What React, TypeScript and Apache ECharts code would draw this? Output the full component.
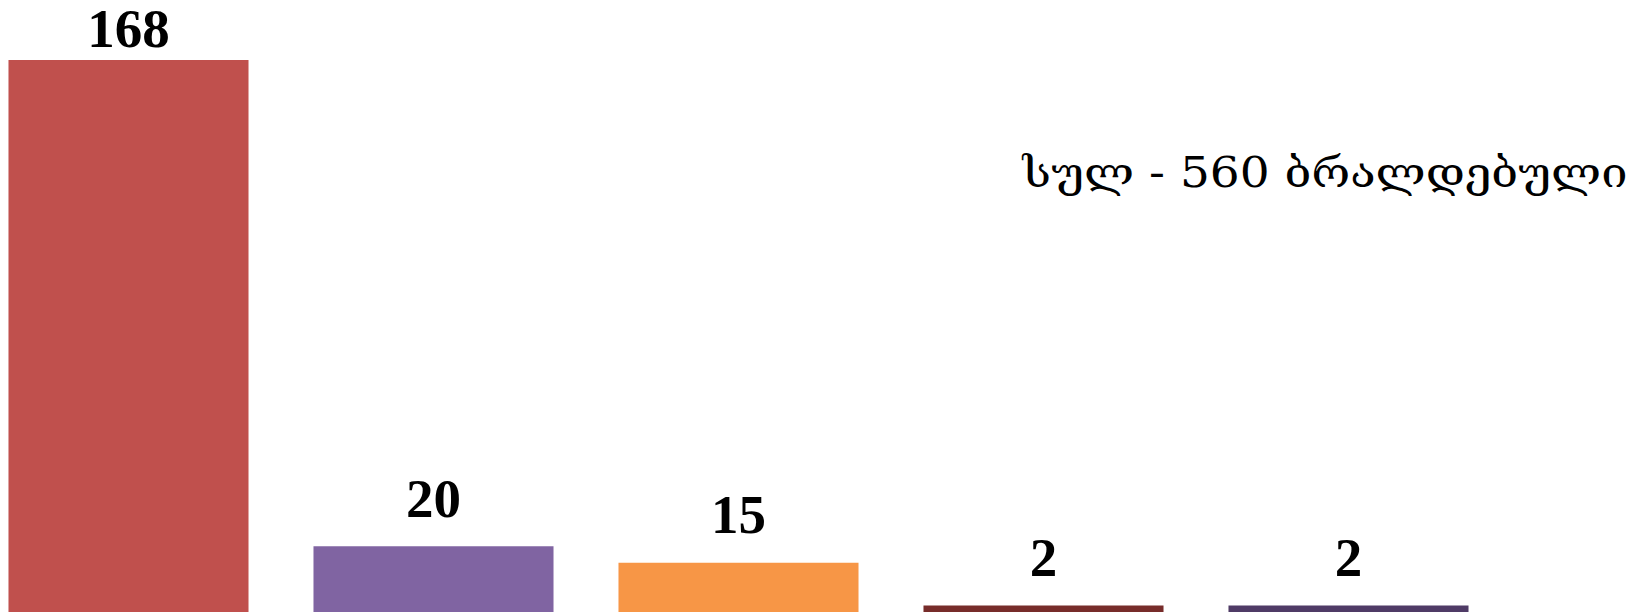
import React, { useEffect, useRef } from "react";
import * as echarts from "echarts";

const categories = ["A", "B", "C", "D", "E"];
const values = [168, 20, 15, 2, 2];
const barColors = ["#C0504D", "#8064A2", "#F79646", "#772C2A", "#4F3B66"];
const totalLabel = "სულ - 560 ბრალდებული";

export default function App() {
  const ref = useRef<HTMLDivElement>(null);
  useEffect(() => {
    if (!ref.current) return;
    const chart = echarts.init(ref.current, undefined, { renderer: "svg" });
    chart.setOption({
      animation: false,
      backgroundColor: "#ffffff",
      grid: { left: 0, width: 1525, top: 60, height: 552 },
      xAxis: {
        type: "category",
        data: categories,
        show: false,
      },
      yAxis: { type: "value", min: 0, max: 168, show: false },
      series: [
        {
          type: "bar",
          barCategoryGap: "21.3%",
          data: values.map((v, i) => ({
            value: v,
            itemStyle: { color: barColors[i] },
            label: i === 0 ? { offset: [0, 16] } : undefined,
          })),
          label: {
            show: true,
            position: "top",
            distance: 28,
            color: "#000",
            fontFamily: "Liberation Serif",
            fontWeight: "bold",
            fontSize: 55,
            lineHeight: 40,
          },
        },
      ],
      graphic: [
        {
          type: "text",
          x: 1651.5,
          y: 152,
          scaleX: 1.12,
          style: {
            text: totalLabel,
            fill: "#000",
            fontFamily: "DejaVu Serif",
            fontWeight: "normal",
            fontSize: 42,
            align: "right",
            verticalAlign: "top",
          },
        },
      ],
    });
    return () => chart.dispose();
  }, []);
  return (
    <div
      ref={ref}
      style={{ position: "absolute", left: -24.5, top: 0, width: 1672.5, height: 613 }}
    />
  );
}
